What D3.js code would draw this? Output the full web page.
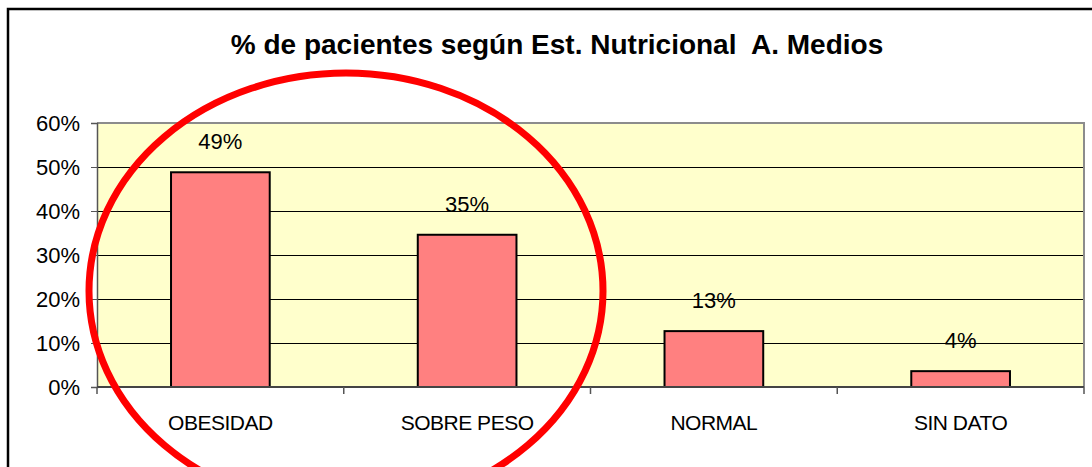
<!DOCTYPE html>
<html>
<head>
<meta charset="utf-8">
<script src="https://cdn.jsdelivr.net/npm/d3@7"></script>
<style>
  body { margin: 0; background: #fff; }
  text { font-family: "Liberation Sans", Arial, sans-serif; fill: #000; }
</style>
</head>
<body>
<div id="chart"></div>
<script>
// chart data
var categories = ["OBESIDAD", "SOBRE PESO", "NORMAL", "SIN DATO"];
var percents = [48.8, 34.6, 12.7, 3.6];
var yTicks = [0, 10, 20, 30, 40, 50, 60];
var title = "% de pacientes según Est. Nutricional  A. Medios";

var svgWidth = 1092;
var svgHeight = 467;

var margin = { top: 123, right: 8, bottom: 80, left: 97 };
var width = svgWidth - margin.left - margin.right;
var height = 387 - margin.top;

var svg = d3.select("#chart")
    .append("svg")
    .attr("width", svgWidth)
    .attr("height", svgHeight);

// outer chart border (runs off the right and bottom of the picture)
svg.append("rect")
    .attr("x", 8)
    .attr("y", 9)
    .attr("width", 1200)
    .attr("height", 600)
    .attr("fill", "none")
    .attr("stroke", "#000")
    .attr("stroke-width", 2.5);

svg.append("text")
    .attr("x", 557)
    .attr("y", 54)
    .attr("text-anchor", "middle")
    .attr("font-size", "28px")
    .attr("font-weight", "bold")
    .style("white-space", "pre")
    .text(title);

var chartGroup = svg.append("g")
    .attr("transform", `translate(${margin.left}, ${margin.top})`);

// scales
var xCat = d3.scaleBand().domain(categories).range([0, width]).padding(0);
var xBar = d3.scaleBand().domain(categories).range([0, width])
    .paddingInner(0.6).paddingOuter(0.3);
var yScale = d3.scaleLinear().domain([0, 60]).range([height, 0]);

// plot background
chartGroup.append("rect")
    .attr("width", width)
    .attr("height", height)
    .attr("fill", "#ffffcc");

// gridlines
chartGroup.selectAll(".grid")
    .data(yTicks.slice(1, -1))
    .enter()
    .append("line")
    .attr("x1", 0)
    .attr("x2", width)
    .attr("y1", d => Math.round(yScale(d)) + 0.5)
    .attr("y2", d => Math.round(yScale(d)) + 0.5)
    .attr("stroke", "#000")
    .attr("stroke-width", 1);

// plot border top + right (gray)
chartGroup.append("path")
    .attr("d", `M0,0H${width}V${height}`)
    .attr("fill", "none")
    .attr("stroke", "#8c8c8c")
    .attr("stroke-width", 2);

// y axis
var yAxis = d3.axisLeft(yScale)
    .tickValues(yTicks)
    .tickFormat(d => d + "%")
    .tickSize(6)
    .tickPadding(11);

var yG = chartGroup.append("g").call(yAxis);
yG.select(".domain").attr("stroke", "#555").attr("stroke-width", 1.5);
yG.selectAll(".tick line").attr("stroke", "#555");
yG.selectAll("text")
    .attr("font-size", "22px")
    .attr("font-family", "'Liberation Sans', Arial, sans-serif")
    .attr("fill", "#000");

// bars
chartGroup.selectAll(".bar")
    .data(percents)
    .enter()
    .append("rect")
    .attr("x", (d, i) => xBar(categories[i]))
    .attr("y", d => yScale(d))
    .attr("width", xBar.bandwidth())
    .attr("height", d => height - yScale(d))
    .attr("fill", "#ff8080")
    .attr("stroke", "#000")
    .attr("stroke-width", 2);

// x axis line
chartGroup.append("line")
    .attr("x1", 0)
    .attr("x2", width)
    .attr("y1", height)
    .attr("y2", height)
    .attr("stroke", "#444")
    .attr("stroke-width", 2);

// category boundary ticks
var bounds = categories.map(c => xCat(c)).concat([width]);
chartGroup.selectAll(".xtick")
    .data(bounds)
    .enter()
    .append("line")
    .attr("x1", d => d)
    .attr("x2", d => d)
    .attr("y1", height)
    .attr("y2", height + 7)
    .attr("stroke", "#555")
    .attr("stroke-width", 1.5);

// category labels
chartGroup.selectAll(".xlabel")
    .data(categories)
    .enter()
    .append("text")
    .attr("x", d => xBar(d) + xBar.bandwidth() / 2)
    .attr("y", height + 43)
    .attr("text-anchor", "middle")
    .attr("font-size", "21px")
    .attr("letter-spacing", "-0.5px")
    .text(d => d);

// value labels
chartGroup.selectAll(".vlabel")
    .data(percents)
    .enter()
    .append("text")
    .attr("x", (d, i) => xBar(categories[i]) + xBar.bandwidth() / 2)
    .attr("y", d => yScale(d) - 23)
    .attr("text-anchor", "middle")
    .attr("font-size", "22px")
    .text(d => Math.round(d) + "%");

// red highlight ellipse
svg.append("ellipse")
    .attr("cx", 346)
    .attr("cy", 291)
    .attr("rx", 257)
    .attr("ry", 218)
    .attr("fill", "none")
    .attr("stroke", "#ff0000")
    .attr("stroke-width", 7);
</script>
</body>
</html>
